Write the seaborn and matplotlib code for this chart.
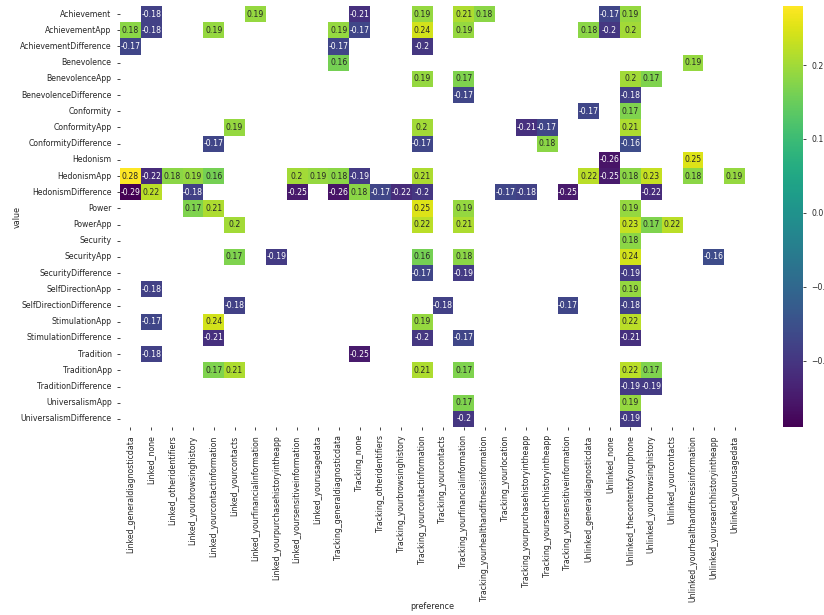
import numpy as np
import pandas as pd
import matplotlib
matplotlib.use("Agg")
import matplotlib.pyplot as plt
import seaborn as sns

# Row (value dimension) and column (privacy preference) labels
values = [
    "Achievement", "AchievementApp", "AchievementDifference",
    "Benevolence", "BenevolenceApp", "BenevolenceDifference",
    "Conformity", "ConformityApp", "ConformityDifference",
    "Hedonism", "HedonismApp", "HedonismDifference",
    "Power", "PowerApp",
    "Security", "SecurityApp", "SecurityDifference",
    "SelfDirectionApp", "SelfDirectionDifference",
    "StimulationApp", "StimulationDifference",
    "Tradition", "TraditionApp", "TraditionDifference",
    "UniversalismApp", "UniversalismDifference",
]

preferences = [
    "Linked_generaldiagnosticdata", "Linked_none", "Linked_otheridentifiers",
    "Linked_yourbrowsinghistory", "Linked_yourcontactinformation",
    "Linked_yourcontacts", "Linked_yourfinancialinformation",
    "Linked_yourpurchasehistoryintheapp", "Linked_yoursensitiveinformation",
    "Linked_yourusagedata", "Tracking_generaldiagnosticdata", "Tracking_none",
    "Tracking_otheridentifiers", "Tracking_yourbrowsinghistory",
    "Tracking_yourcontactinformation", "Tracking_yourcontacts",
    "Tracking_yourfinancialinformation",
    "Tracking_yourhealthandfitnessinformation", "Tracking_yourlocation",
    "Tracking_yourpurchasehistoryintheapp",
    "Tracking_yoursearchhistoryintheapp", "Tracking_yoursensitiveinformation",
    "Unlinked_generaldiagnosticdata", "Unlinked_none",
    "Unlinked_thecontentofyourphone", "Unlinked_yourbrowsinghistory",
    "Unlinked_yourcontacts", "Unlinked_yourhealthandfitnessinformation",
    "Unlinked_yoursearchhistoryintheapp", "Unlinked_yourusagedata",
]

# Significant correlations only, in long form: (value row, preference column index, r)
cell_value = (
    ["Achievement"] * 8
    + ["AchievementApp"] * 10
    + ["AchievementDifference"] * 3
    + ["Benevolence"] * 2
    + ["BenevolenceApp"] * 4
    + ["BenevolenceDifference"] * 2
    + ["Conformity"] * 2
    + ["ConformityApp"] * 5
    + ["ConformityDifference"] * 4
    + ["Hedonism"] * 2
    + ["HedonismApp"] * 16
    + ["HedonismDifference"] * 13
    + ["Power"] * 5
    + ["PowerApp"] * 6
    + ["Security"] * 1
    + ["SecurityApp"] * 6
    + ["SecurityDifference"] * 3
    + ["SelfDirectionApp"] * 2
    + ["SelfDirectionDifference"] * 4
    + ["StimulationApp"] * 4
    + ["StimulationDifference"] * 4
    + ["Tradition"] * 2
    + ["TraditionApp"] * 6
    + ["TraditionDifference"] * 2
    + ["UniversalismApp"] * 2
    + ["UniversalismDifference"] * 2
)

cell_pref_idx = [
    1, 6, 11, 14, 16, 17, 23, 24,
    0, 1, 4, 10, 11, 14, 16, 22, 23, 24,
    0, 10, 14,
    10, 27,
    14, 16, 24, 25,
    16, 24,
    22, 24,
    5, 14, 19, 20, 24,
    4, 14, 20, 24,
    23, 27,
    0, 1, 2, 3, 4, 8, 9, 10, 11, 14, 22, 23, 24, 25, 27, 29,
    0, 1, 3, 8, 10, 11, 12, 13, 14, 18, 19, 21, 25,
    3, 4, 14, 16, 24,
    5, 14, 16, 24, 25, 26,
    24,
    5, 7, 14, 16, 24, 28,
    14, 16, 24,
    1, 24,
    5, 15, 21, 24,
    1, 4, 14, 24,
    4, 14, 16, 24,
    1, 11,
    4, 5, 14, 16, 24, 25,
    24, 25,
    16, 24,
    16, 24,
]

cell_r = [
    -0.18, 0.19, -0.21, 0.19, 0.21, 0.18, -0.17, 0.19,
    0.18, -0.18, 0.19, 0.19, -0.17, 0.24, 0.19, 0.18, -0.2, 0.2,
    -0.17, -0.17, -0.2,
    0.16, 0.19,
    0.19, 0.17, 0.2, 0.17,
    -0.17, -0.18,
    -0.17, 0.17,
    0.19, 0.2, -0.21, -0.17, 0.21,
    -0.17, -0.17, 0.18, -0.16,
    -0.26, 0.25,
    0.28, -0.22, 0.18, 0.19, 0.16, 0.2, 0.19, 0.18, -0.19, 0.21, 0.22,
    -0.25, 0.18, 0.23, 0.18, 0.19,
    -0.29, 0.22, -0.18, -0.25, -0.26, 0.18, -0.17, -0.22, -0.2, -0.17,
    -0.18, -0.25, -0.22,
    0.17, 0.21, 0.25, 0.19, 0.19,
    0.2, 0.22, 0.21, 0.23, 0.17, 0.22,
    0.18,
    0.17, -0.19, 0.16, 0.18, 0.24, -0.16,
    -0.17, -0.19, -0.19,
    -0.18, 0.19,
    -0.18, -0.18, -0.17, -0.18,
    -0.17, 0.24, 0.19, 0.22,
    -0.21, -0.2, -0.17, -0.21,
    -0.18, -0.25,
    0.17, 0.21, 0.21, 0.17, 0.22, 0.17,
    -0.19, -0.19,
    0.17, 0.19,
    -0.2, -0.19,
]

long_df = pd.DataFrame({
    "value": cell_value,
    "preference": [preferences[i] for i in cell_pref_idx],
    "r": cell_r,
})
matrix = (
    long_df.pivot(index="value", columns="preference", values="r")
    .reindex(index=values, columns=preferences)
)

sns.set_theme(style="ticks")
plt.rcParams.update({
    "font.family": ["DejaVu Sans"],
    "font.size": 5.6,
    "axes.labelsize": 5.8,
    "xtick.labelsize": 5.6,
    "ytick.labelsize": 5.6,
    "xtick.major.size": 2.5,
    "ytick.major.size": 2.5,
    "xtick.major.width": 0.6,
    "ytick.major.width": 0.6,
})

fig = plt.figure(figsize=(8.24, 6.15), dpi=100)
ax = fig.add_axes([120 / 824, 1 - 427 / 615, 625 / 824, 421 / 615])
cax = fig.add_axes([783 / 824, 1 - 427 / 615, 20 / 824, 421 / 615])

sns.heatmap(
    matrix, ax=ax, cbar_ax=cax, cmap="viridis",
    annot=True, annot_kws={"fontsize": 5.6},
    xticklabels=True, yticklabels=True,
)
ax.set_xlabel("preference", labelpad=0)
ax.set_ylabel("value", labelpad=-1)
ax.tick_params(axis="x", labelrotation=90)
ax.tick_params(axis="y", labelrotation=0)
cax.tick_params(labelsize=5.6)

fig.savefig("out.png", dpi=100)
